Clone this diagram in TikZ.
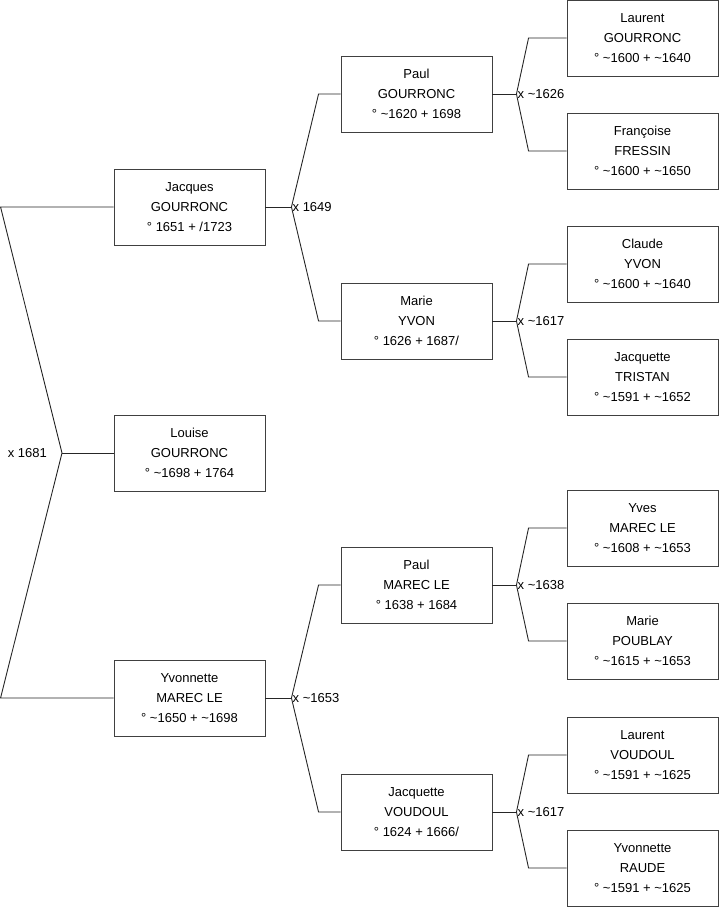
\documentclass[tikz,border=0pt]{standalone}
\usepackage{fontspec}
\setmainfont{Liberation Sans}
\usetikzlibrary{positioning}

\tikzset{
  person/.style={draw=black!75, line width=0.9pt, fill=white,
    minimum width=151pt, minimum height=76pt, inner sep=0pt,
    align=center, font=\fontsize{13}{20}\selectfont},
  link/.style={draw=black!85, line width=0.9pt},
  wed/.style={anchor=west, inner sep=1pt, font=\fontsize{13}{15}\selectfont}
}

\begin{document}
\begin{tikzpicture}[x=1pt, y=-1pt]
  \useasboundingbox (0,0) rectangle (719,908);

  %% ── Generation 0 / 1 ────────────────────────────────────────────
  \node[person] (jacques)   at (189.5,207) {Jacques\\GOURRONC\\° 1651 + /1723};
  \node[person] (louise)    at (189.5,453) {Louise\\GOURRONC\\° \textasciitilde1698 + 1764};
  \node[person] (yvonnette) at (189.5,698) {Yvonnette\\MAREC LE\\° \textasciitilde1650 + \textasciitilde1698};

  %% ── Generation 2 ────────────────────────────────────────────────
  \node[person] (paulg)   at (416.5,94)  {Paul\\GOURRONC\\° \textasciitilde1620 + 1698};
  \node[person] (marie)   at (416.5,321) {Marie\\YVON\\° 1626 + 1687/};
  \node[person] (paulm)   at (416.5,585) {Paul\\MAREC LE\\° 1638 + 1684};
  \node[person] (jacqv)   at (416.5,812) {Jacquette\\VOUDOUL\\° 1624 + 1666/};

  %% ── Generation 3 ────────────────────────────────────────────────
  \node[person] (laurentg)  at (642.5,38)  {Laurent\\GOURRONC\\° \textasciitilde1600 + \textasciitilde1640};
  \node[person] (francoise) at (642.5,151) {Françoise\\FRESSIN\\° \textasciitilde1600 + \textasciitilde1650};
  \node[person] (claude)    at (642.5,264) {Claude\\YVON\\° \textasciitilde1600 + \textasciitilde1640};
  \node[person] (jacqt)     at (642.5,377) {Jacquette\\TRISTAN\\° \textasciitilde1591 + \textasciitilde1652};
  \node[person] (yves)      at (642.5,528) {Yves\\MAREC LE\\° \textasciitilde1608 + \textasciitilde1653};
  \node[person] (mariep)    at (642.5,641) {Marie\\POUBLAY\\° \textasciitilde1615 + \textasciitilde1653};
  \node[person] (laurentv)  at (642.5,755) {Laurent\\VOUDOUL\\° \textasciitilde1591 + \textasciitilde1625};
  \node[person] (yvonr)     at (642.5,868) {Yvonnette\\RAUDE\\° \textasciitilde1591 + \textasciitilde1625};

  %% ── Marriage of Louise's parents ────────────────────────────────
  \coordinate (w0) at (62,453);
  \draw[link] (louise.west) -- (w0);
  \draw[link] (jacques.west) -- ([xshift=-113pt]jacques.west) -- (w0)
    -- ([xshift=-113pt]yvonnette.west) -- (yvonnette.west);
  \node[wed, anchor=east] at ([xshift=-14pt]w0) {x 1681};

  %% ── Parents of Jacques ──────────────────────────────────────────
  \coordinate (w1) at ([xshift=26pt]jacques.east);
  \draw[link] (jacques.east) -- (w1);
  \draw[link] (paulg.west) -- ([xshift=-22pt]paulg.west) -- (w1)
    -- ([xshift=-22pt]marie.west) -- (marie.west);
  \node[wed] at (w1) {x 1649};

  %% ── Parents of Yvonnette ────────────────────────────────────────
  \coordinate (w2) at ([xshift=26pt]yvonnette.east);
  \draw[link] (yvonnette.east) -- (w2);
  \draw[link] (paulm.west) -- ([xshift=-22pt]paulm.west) -- (w2)
    -- ([xshift=-22pt]jacqv.west) -- (jacqv.west);
  \node[wed] at (w2) {x \textasciitilde1653};

  %% ── Parents of Paul GOURRONC ────────────────────────────────────
  \coordinate (w3) at ([xshift=24pt]paulg.east);
  \draw[link] (paulg.east) -- (w3);
  \draw[link] (laurentg.west) -- ([xshift=-38pt]laurentg.west) -- (w3)
    -- ([xshift=-38pt]francoise.west) -- (francoise.west);
  \node[wed] at (w3) {x \textasciitilde1626};

  %% ── Parents of Marie YVON ───────────────────────────────────────
  \coordinate (w4) at ([xshift=24pt]marie.east);
  \draw[link] (marie.east) -- (w4);
  \draw[link] (claude.west) -- ([xshift=-38pt]claude.west) -- (w4)
    -- ([xshift=-38pt]jacqt.west) -- (jacqt.west);
  \node[wed] at (w4) {x \textasciitilde1617};

  %% ── Parents of Paul MAREC LE ────────────────────────────────────
  \coordinate (w5) at ([xshift=24pt]paulm.east);
  \draw[link] (paulm.east) -- (w5);
  \draw[link] (yves.west) -- ([xshift=-38pt]yves.west) -- (w5)
    -- ([xshift=-38pt]mariep.west) -- (mariep.west);
  \node[wed] at (w5) {x \textasciitilde1638};

  %% ── Parents of Jacquette VOUDOUL ────────────────────────────────
  \coordinate (w6) at ([xshift=24pt]jacqv.east);
  \draw[link] (jacqv.east) -- (w6);
  \draw[link] (laurentv.west) -- ([xshift=-38pt]laurentv.west) -- (w6)
    -- ([xshift=-38pt]yvonr.west) -- (yvonr.west);
  \node[wed] at (w6) {x \textasciitilde1617};

\end{tikzpicture}
\end{document}
